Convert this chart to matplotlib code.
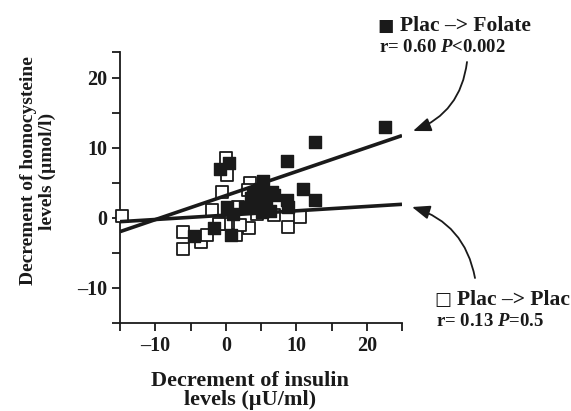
import matplotlib
matplotlib.use("Agg")
import matplotlib.pyplot as plt
import numpy as np
from matplotlib.ticker import FixedLocator

# ---- data ----
folate_x = [22.6, 12.7, 8.7, 0.5, -0.8, 5.3, 11.0, 12.6, 6.5, 8.7, 8.8, 4.8, 3.6,
            4.2, 5.7, 5.2, 6.3, 2.8, 0.2, 1.0, -1.7, -4.5, 0.8, 6.8, 3.9]
folate_y = [13.0, 10.8, 8.2, 7.9, 7.0, 5.3, 4.1, 2.5, 3.7, 2.6, 1.5, 4.2, 2.8,
            1.8, 2.4, 0.8, 1.0, 1.6, 1.6, 0.6, -1.5, -2.6, -2.4, 3.3, 3.4]
plac_x = [-14.7, 0.0, 0.2, -0.6, -2.0, -6.1, -6.0, -3.5, -2.7, 1.5, 3.3, 3.5, 1.8,
          8.8, 10.5, 6.8, 5.1, 0.1, -1.0, 3.2, 4.5, 2.0]
plac_y = [0.3, 8.6, 6.2, 3.7, 1.1, -2.0, -4.5, -3.5, -2.4, -2.4, -1.5, 5.0, 1.6,
          -1.3, 0.2, 0.4, 3.4, -0.8, -0.9, 4.0, 0.5, -1.0]
folate_fit = [3.19, 0.343]   # intercept, slope
plac_fit = [0.40, 0.062]
x_ticklabels = [-10, 0, 10, 20]
y_ticklabels = [-10, 0, 10, 20]

plt.rcParams['font.family'] = ['Liberation Serif', 'DejaVu Serif']
plt.rcParams['font.weight'] = 'bold'
plt.rcParams['mathtext.fontset'] = 'custom'
plt.rcParams['mathtext.it'] = 'Liberation Serif:italic:bold'
plt.rcParams['mathtext.rm'] = 'Liberation Serif:bold'

W, H = 571, 411
fig = plt.figure(figsize=(W / 100, H / 100), dpi=100)
ax = fig.add_axes([120 / W, 1 - 323 / H, (402 - 120) / W, (323 - 52) / H])

xmin, xmax = -15, 25
ymin, ymax = -15, 23.7
ink = '#1a1a1a'

ax.scatter(plac_x, plac_y, marker='s', s=85, facecolor='white', edgecolor=ink,
           linewidth=1.3, zorder=3, clip_on=False)
ax.scatter(folate_x, folate_y, marker='s', s=85, facecolor=ink, edgecolor=ink,
           linewidth=1.0, zorder=4, clip_on=False)

xs = np.array([xmin, xmax])
ax.plot(xs, folate_fit[0] + folate_fit[1] * xs, color=ink, lw=2.6, zorder=5,
        solid_capstyle='butt')
ax.plot(xs, plac_fit[0] + plac_fit[1] * xs, color=ink, lw=2.6, zorder=5,
        solid_capstyle='butt')

ax.set_xlim(xmin, xmax)
ax.set_ylim(ymin, ymax)
for s in ['top', 'right']:
    ax.spines[s].set_visible(False)
for s in ['left', 'bottom']:
    ax.spines[s].set_linewidth(1.3)
    ax.spines[s].set_color(ink)

ax.xaxis.set_major_locator(FixedLocator(x_ticklabels))
ax.xaxis.set_minor_locator(FixedLocator([-15, -5, 5, 15, 25]))
ax.yaxis.set_major_locator(FixedLocator(y_ticklabels))
ax.yaxis.set_minor_locator(FixedLocator([-15, -5, 5, 15, ymax]))
ax.set_xticklabels(['\u2013' + str(-v) if v < 0 else str(v) for v in x_ticklabels])
ax.set_yticklabels(['\u2013' + str(-v) if v < 0 else str(v) for v in y_ticklabels])
ax.tick_params(which='both', direction='out', length=6, width=1.3, color=ink)
ax.tick_params(axis='both', labelsize=14.5, pad=3, labelcolor=ink)

fig.text(38 / W, 1 - 171 / H, 'Decrement of homocysteine\nlevels (\u00b5mol/l)',
         rotation=90, ha='center', va='center', fontsize=14, fontweight='bold',
         multialignment='center', linespacing=1.15, color=ink)
fig.text(250 / W, 1 - 371 / H, 'Decrement of insulin\nlevels (\u00b5U/ml)',
         ha='center', va='top', fontsize=16, fontweight='bold',
         multialignment='center', linespacing=0.95, color=ink)

# legend-like annotations
fig.text(377 / W, 1 - 31 / H, '\u25a0', ha='left', va='baseline',
         fontsize=12.5, family=['DejaVu Sans'], color=ink)
fig.text(400 / W, 1 - 31 / H, 'Plac \u2013> Folate', ha='left', va='baseline',
         fontsize=15.5, fontweight='bold', color=ink)
fig.text(379 / W, 1 - 52 / H, r'r= 0.60 $P$<0.002', ha='left', va='baseline',
         fontsize=13.5, fontweight='bold', color=ink)
fig.text(434 / W, 1 - 305 / H, '\u25a1', ha='left', va='baseline',
         fontsize=13, family=['DejaVu Sans'], color=ink)
fig.text(457 / W, 1 - 305 / H, 'Plac \u2013> Plac', ha='left', va='baseline',
         fontsize=15.5, fontweight='bold', color=ink)
fig.text(436 / W, 1 - 326 / H, r'r= 0.13 $P$=0.5', ha='left', va='baseline',
         fontsize=13.5, fontweight='bold', color=ink)

arrow_kw = dict(arrowstyle='-|>,head_length=0.9,head_width=0.35', color=ink,
                lw=1.3, shrinkA=0, shrinkB=0)
fig.add_artist(matplotlib.patches.FancyArrowPatch(
    (467 / W, 1 - 62 / H), (413 / W, 1 - 131 / H), transform=fig.transFigure,
    connectionstyle='arc3,rad=-0.3', mutation_scale=12, **arrow_kw))
fig.add_artist(matplotlib.patches.FancyArrowPatch(
    (475 / W, 1 - 278 / H), (412 / W, 1 - 207 / H), transform=fig.transFigure,
    connectionstyle='arc3,rad=0.3', mutation_scale=12, **arrow_kw))

fig.savefig('out.png', dpi=100)
